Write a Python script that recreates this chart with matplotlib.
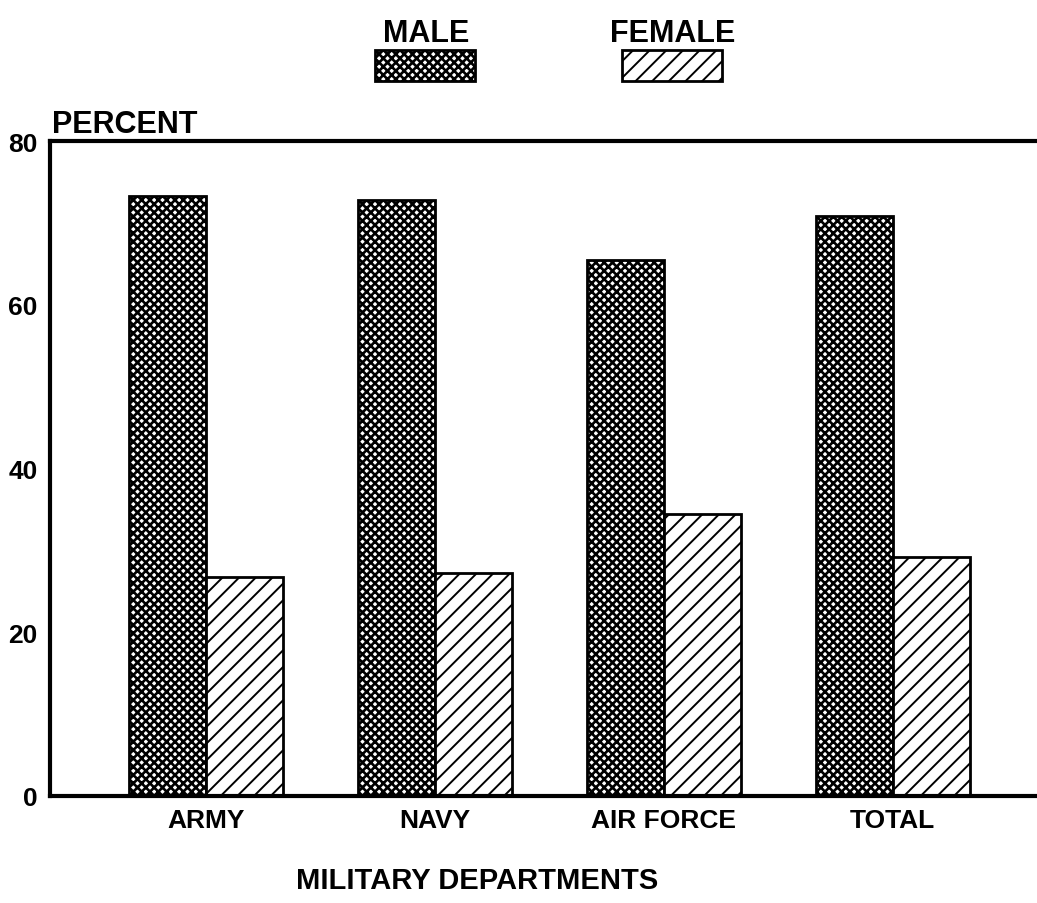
import numpy as np
import matplotlib
matplotlib.use('Agg')
import matplotlib.pyplot as plt
from matplotlib.patches import Rectangle

# data (percent)
departments = ['ARMY', 'NAVY', 'AIR FORCE', 'TOTAL']
male = [73.3, 72.8, 65.5, 70.8]
female = [26.7, 27.2, 34.5, 29.2]
yticks = [0, 20, 40, 60, 80]

plt.rcParams['font.family'] = ['Liberation Sans', 'DejaVu Sans']
plt.rcParams['font.weight'] = 'bold'

W, H = 1037, 904
fig = plt.figure(figsize=(W / 100, H / 100), dpi=100)
ax = fig.add_axes([50 / W, 1 - 797 / H, 1 - 50 / W, (797 - 142) / H])

x = np.arange(len(departments))
bw = 0.336
MALE_HATCH, MALE_HLW = 'xxxx', 1.9
FEM_HATCH, FEM_HLW = '//', 1.4

plt.rcParams['hatch.linewidth'] = MALE_HLW
ax.bar(x - bw / 2, male, width=bw, facecolor='white', edgecolor='black',
       hatch=MALE_HATCH, linewidth=2)
plt.rcParams['hatch.linewidth'] = FEM_HLW
ax.bar(x + bw / 2, female, width=bw, facecolor='white', edgecolor='black',
       hatch=FEM_HATCH, linewidth=2)

ax.set_xlim(-0.681, 3.63)
ax.set_ylim(0, 80)
ax.set_yticks(yticks)
ax.set_xticks(x)
ax.set_xticklabels(departments)
ax.tick_params(axis='both', length=0, labelsize=19, width=0)
ax.tick_params(axis='y', pad=9)
ax.tick_params(axis='x', pad=9)
for lab in ax.get_xticklabels() + ax.get_yticklabels():
    lab.set_fontweight('bold')

ax.spines['right'].set_visible(False)
for s in ['left', 'top', 'bottom']:
    ax.spines[s].set_linewidth(3)

fig.text(52 / W, 1 - 133 / H, 'PERCENT', fontsize=22, fontweight='bold',
         ha='left', va='baseline')
fig.text(477 / W, 1 - 889 / H, 'MILITARY DEPARTMENTS', fontsize=21,
         fontweight='bold', ha='center', va='baseline')

# legend: label above swatch
legend_items = [('MALE', MALE_HATCH, MALE_HLW, 375, 426),
                ('FEMALE', FEM_HATCH, FEM_HLW, 622, 673)]
for label, hatch, hlw, x0, xc in legend_items:
    plt.rcParams['hatch.linewidth'] = hlw
    fig.add_artist(Rectangle((x0 / W, 1 - 82 / H), 100 / W, 31 / H,
                             transform=fig.transFigure, facecolor='white',
                             edgecolor='black', hatch=hatch, linewidth=2))
    fig.text(xc / W, 1 - 42 / H, label, fontsize=22, fontweight='bold',
             ha='center', va='baseline')

fig.savefig('out.png', dpi=100)
